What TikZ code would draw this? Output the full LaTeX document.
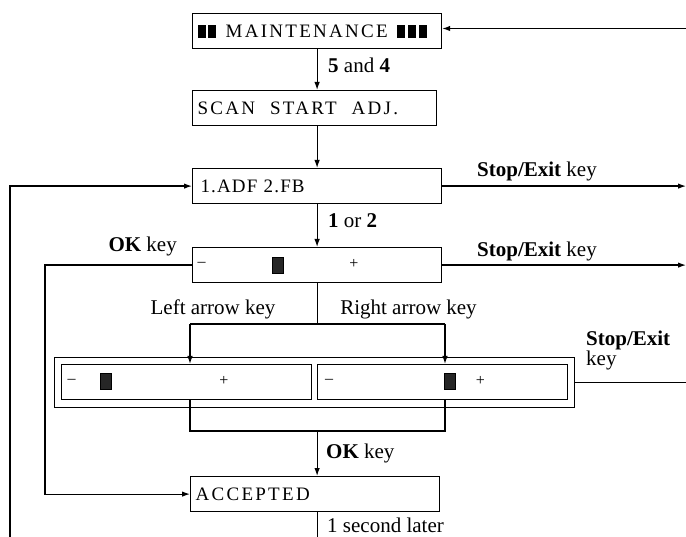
\documentclass[tikz,border=0pt]{standalone}
\usepackage{fontspec}
\setmainfont{Liberation Serif}
\newfontfamily\lcdfont[LetterSpace=12]{Liberation Serif}
\newfontfamily\lcdnarrow[LetterSpace=6]{Liberation Serif}
\usetikzlibrary{arrows.meta}
\begin{document}
\begin{tikzpicture}[x=1pt,y=-1pt,
  lbl/.style={font=\fontsize{21}{21}\selectfont, inner sep=0pt, anchor=base west},
  box/.style={draw, line width=1.2pt, anchor=north west, minimum height=35pt, inner xsep=5pt, inner ysep=0pt, align=left, font=\lcdfont\fontsize{19}{19}\selectfont},
  frame/.style={draw, line width=1.2pt, anchor=north west, inner sep=0pt},
  conn/.style={line width=1.2pt},
  arr/.style={conn, -{Latex[length=8pt,width=5.5pt]}},
  cur/.style={draw, fill=black!85, minimum width=11pt, minimum height=16pt, inner sep=0pt, line width=0.6pt},
  sym/.style={font=\fontsize{16}{16}\selectfont, inner sep=0pt}
]
\useasboundingbox (0,0) rectangle (686,537);
% boxes
\node[box, text width=239pt] (m) at (192,13) {\rule[-0.5pt]{8pt}{12.5pt}\hspace{2.5pt}\rule[-0.5pt]{8pt}{12.5pt}\hspace{9.5pt}MAINTENANCE\hspace{9pt}\rule[-0.5pt]{8pt}{12.5pt}\hspace{3pt}\rule[-0.5pt]{8pt}{12.5pt}\hspace{3pt}\rule[-0.5pt]{8pt}{12.5pt}};
\node[box, text width=234pt] (scan) at (192,90) {SCAN\hspace{15pt}START\hspace{15pt}ADJ.};
\node[box, text width=239pt, font=\lcdnarrow\fontsize{19}{19}\selectfont] (adf) at (192,168) {\hspace{3pt}1.ADF 2.FB};
\node[box, text width=239pt] (s) at (192,247) {};
\node[frame, minimum width=520pt, minimum height=50pt] (outer) at (54,357) {};
\node[box, text width=240pt] (inL) at (61,364) {};
\node[box, text width=240pt] (inR) at (317,364) {};
\node[box, text width=239pt] (acc) at (190,476) {ACCEPTED};
% slider contents
\node[sym] (sminus) at (201.5,264) {–};
\node[cur] (scur) at (277.5,265) {};
\node[sym] (splus) at (354,264) {+};
\node[sym] (lminus) at (71.5,381) {–};
\node[cur] (lcur) at (106,381) {};
\node[sym] (lplus) at (224,381) {+};
\node[sym] (rminus) at (329,381) {–};
\node[cur] (rcur) at (450,381) {};
\node[sym] (rplus) at (480.5,381) {+};
% labels
\node[lbl] (l54) at (328,73) {\textbf{5} and \textbf{4}};
\node[lbl] (lstop1) at (477,177) {\textbf{Stop/Exit} key};
\node[lbl] (l12) at (328,228) {\textbf{1} or \textbf{2}};
\node[lbl, anchor=base east] (lok1) at (177,252) {\textbf{OK} key};
\node[lbl] (lstop2) at (477,256.5) {\textbf{Stop/Exit} key};
\node[lbl, anchor=base] (lleft) at (213,315) {Left arrow key};
\node[lbl, anchor=base] (lright) at (408.5,315) {Right arrow key};
\node[lbl] (lstop3a) at (586,346) {\textbf{Stop/Exit}};
\node[lbl] (lstop3b) at (586,366) {key};
\node[lbl] (lok2) at (326,458) {\textbf{OK} key};
\node[lbl] (l1s) at (327,532.5) {1 second later};
% connectors
\coordinate (rim) at (686,0);
\coordinate (bot) at (0,537);
\coordinate (in0) at (686,28.5);
\coordinate (loopL) at (10,537);
\coordinate (okL) at (45,0);
\coordinate (sL) at (190,324);
\coordinate (sR) at (445,324);
\coordinate (jL) at (190,431);
\coordinate (jR) at (445,431);
\draw[arr] (in0) -- (m.east |- in0);
\draw[arr] (m.south) -- (m.south |- scan.north);
\draw[arr] (m.south |- scan.south) -- (m.south |- adf.north);
\draw[arr] (loopL) |- (adf.west);
\draw[arr] (adf.east) -- (adf.east -| rim);
\draw[arr] (adf.south) -- (s.north);
\draw[arr] (s.west) -| (okL |- acc.west) -- (acc.west);
\draw[arr] (s.east) -- (s.east -| rim);
\draw[conn] (s.south) -- (s.south |- sL);
\draw[conn] (sL) -- (sR);
\draw[arr] (sL) -- (sL |- inL.north);
\draw[arr] (sR) -- (sR |- inR.north);
\draw[conn] (jL |- inL.south) -- (jL) -- (jR) -- (jR |- inR.south);
\draw[arr] (s.south |- jL) -- (s.south |- acc.north);
\draw[conn] (outer.east) -- (outer.east -| rim);
\draw[conn] (acc.south -| s.south) -- (s.south |- bot);
\end{tikzpicture}
\end{document}
